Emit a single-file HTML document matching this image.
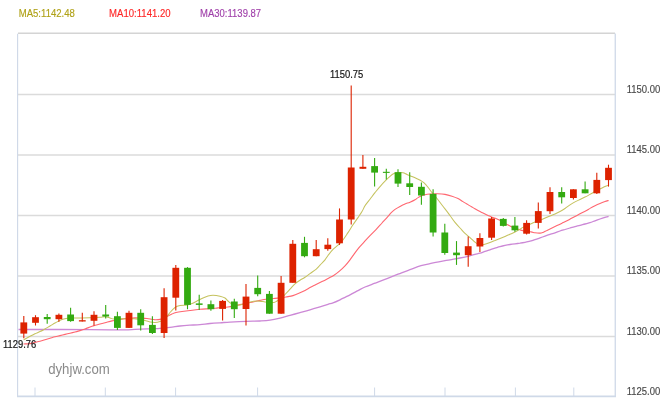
<!DOCTYPE html>
<html lang="zh-CN">
<head>
<meta charset="utf-8">
<title>dyhjw.com</title>
<style>
html,body{margin:0;padding:0;background:#fff;}
body{width:670px;height:400px;overflow:hidden;}
svg{display:block;}
svg text{font-family:"Liberation Sans","Noto Sans CJK SC",sans-serif;}
</style>
</head>
<body>
<svg width="670" height="400" viewBox="0 0 670 400">
<rect x="0" y="0" width="670" height="400" fill="#ffffff"/>

<g stroke="#dbdbdb" stroke-width="1.6" fill="none">
<path d="M18 33.3 L615 33.3" stroke="#d4d4d4"/>
<path d="M18 94.5 L615 94.5"/>
<path d="M18 155 L615 155"/>
<path d="M18 215.5 L615 215.5"/>
<path d="M18 276 L615 276"/>
<path d="M18 336.5 L615 336.5"/>
</g>
<g stroke="#cfd9e8" fill="none">
<path d="M17.6 33.8 L17.6 396.5" stroke-width="1.15"/>
<path d="M615.25 33.5 L615.25 396.5" stroke-width="1.3"/>
<path d="M17 396.4 L616 396.4" stroke-width="1.8"/>
<path d="M35 387.5 L35 396.5" stroke-width="1"/>
<path d="M105.3 387.5 L105.3 396.5" stroke-width="1"/>
<path d="M175.6 387.5 L175.6 396.5" stroke-width="1"/>
<path d="M257.6 387.5 L257.6 396.5" stroke-width="1"/>
<path d="M374.6 387.5 L374.6 396.5" stroke-width="1"/>
<path d="M445 387.5 L445 396.5" stroke-width="1"/>
<path d="M515.4 387.5 L515.4 396.5" stroke-width="1"/>
<path d="M573.8 387.5 L573.8 396.5" stroke-width="1"/>
</g>
<text x="48.2" y="373.8" font-size="14.5" fill="#8a8a8a" textLength="61.6" lengthAdjust="spacingAndGlyphs">dyhjw.com</text>
<path d="M18.5 329.5 C25.4 329.5 48.1 329.5 60.0 329.5 C71.9 329.5 81.7 329.5 90.0 329.6 C98.3 329.7 104.2 329.8 110.0 329.9 C115.8 329.9 120.8 330.0 125.0 329.9 C129.2 329.8 131.3 329.6 135.0 329.4 C138.7 329.2 143.7 329.0 147.0 328.9 C150.3 328.8 152.8 328.8 155.0 328.7 C157.2 328.6 157.5 328.6 160.0 328.4 C162.5 328.2 166.7 327.8 170.0 327.4 C173.3 327.0 176.7 326.4 180.0 326.0 C183.3 325.6 186.7 325.4 190.0 325.2 C193.3 325.0 196.7 324.9 200.0 324.6 C203.3 324.3 206.7 323.8 210.0 323.5 C213.3 323.2 216.7 323.0 220.0 322.8 C223.3 322.6 225.7 322.3 230.0 322.1 C234.3 321.9 241.0 321.6 246.0 321.4 C251.0 321.2 256.0 321.2 260.0 321.0 C264.0 320.8 266.7 320.7 270.0 320.2 C273.3 319.7 276.7 318.9 280.0 318.1 C283.3 317.3 286.7 316.3 290.0 315.4 C293.3 314.5 296.7 313.5 300.0 312.6 C303.3 311.7 306.7 310.8 310.0 309.8 C313.3 308.8 317.0 307.7 320.0 306.8 C323.0 305.9 325.8 305.0 328.0 304.3 C330.2 303.6 331.0 303.6 333.0 302.8 C335.0 302.1 337.2 301.1 340.0 299.8 C342.8 298.5 347.0 296.3 350.0 294.8 C353.0 293.3 355.5 291.9 358.0 290.6 C360.5 289.3 362.2 288.2 365.0 287.0 C367.8 285.8 371.3 284.6 375.0 283.2 C378.7 281.8 383.2 280.1 387.0 278.6 C390.8 277.1 394.2 275.7 398.0 274.2 C401.8 272.7 406.2 271.1 410.0 269.7 C413.8 268.3 417.3 266.8 421.0 265.7 C424.7 264.6 428.8 263.9 432.0 263.2 C435.2 262.5 437.0 262.2 440.0 261.6 C443.0 261.0 446.7 260.4 450.0 259.8 C453.3 259.2 457.0 258.6 460.0 258.0 C463.0 257.4 465.5 256.9 468.0 256.3 C470.5 255.7 473.0 254.9 475.0 254.4 C477.0 253.9 478.3 253.7 480.0 253.2 C481.7 252.7 483.3 252.0 485.0 251.4 C486.7 250.8 488.3 250.4 490.0 249.8 C491.7 249.2 493.3 248.6 495.0 248.1 C496.7 247.6 498.3 247.0 500.0 246.6 C501.7 246.2 503.3 245.8 505.0 245.4 C506.7 245.1 508.3 244.8 510.0 244.5 C511.7 244.2 513.3 244.0 515.0 243.8 C516.7 243.6 518.3 243.4 520.0 243.2 C521.7 242.9 523.3 242.6 525.0 242.3 C526.7 242.0 528.3 241.6 530.0 241.2 C531.7 240.8 533.3 240.1 535.0 239.6 C536.7 239.1 538.3 238.5 540.0 237.9 C541.7 237.3 543.3 236.7 545.0 236.1 C546.7 235.5 548.3 234.9 550.0 234.3 C551.7 233.8 553.3 233.4 555.0 232.8 C556.7 232.2 558.3 231.6 560.0 231.0 C561.7 230.4 563.3 230.0 565.0 229.5 C566.7 229.0 568.3 228.5 570.0 228.0 C571.7 227.5 573.3 227.0 575.0 226.6 C576.7 226.2 578.3 225.7 580.0 225.3 C581.7 224.9 583.3 224.4 585.0 224.0 C586.7 223.6 588.3 223.1 590.0 222.6 C591.7 222.1 593.3 221.4 595.0 220.8 C596.7 220.2 598.3 219.6 600.0 219.0 C601.7 218.4 603.6 217.8 605.0 217.4 C606.4 217.0 608.0 216.6 608.6 216.4" fill="none" stroke="#cc88d6" stroke-width="1.3" stroke-linejoin="round"/>
<path d="M23.6 344.0 C24.7 343.9 28.1 343.9 30.0 343.6 C31.9 343.3 33.3 342.8 35.0 342.4 C36.7 342.0 38.3 341.6 40.0 341.2 C41.7 340.8 43.3 340.3 45.0 339.8 C46.7 339.3 48.3 338.8 50.0 338.3 C51.7 337.8 53.3 337.2 55.0 336.8 C56.7 336.4 58.3 336.0 60.0 335.6 C61.7 335.2 63.3 334.8 65.0 334.4 C66.7 334.0 68.3 333.6 70.0 333.2 C71.7 332.8 73.3 332.4 75.0 332.0 C76.7 331.6 78.3 331.1 80.0 330.6 C81.7 330.1 83.3 329.6 85.0 329.0 C86.7 328.4 88.5 327.6 90.0 327.0 C91.5 326.4 92.3 326.1 94.0 325.6 C95.7 325.1 98.2 324.5 100.0 324.0 C101.8 323.5 103.0 323.2 105.0 322.7 C107.0 322.2 109.8 321.4 112.0 320.9 C114.2 320.4 116.2 320.1 118.0 319.8 C119.8 319.5 121.0 319.2 123.0 318.9 C125.0 318.6 128.0 318.4 130.0 318.2 C132.0 318.0 133.2 317.9 135.0 317.9 C136.8 317.9 139.0 318.0 141.0 318.1 C143.0 318.2 145.2 318.3 147.0 318.5 C148.8 318.7 150.5 319.0 152.0 319.2 C153.5 319.4 154.7 319.8 156.0 319.8 C157.3 319.8 158.7 319.7 160.0 319.4 C161.3 319.1 162.8 318.5 164.0 318.0 C165.2 317.5 165.7 317.2 167.0 316.5 C168.3 315.8 170.5 314.7 172.0 314.0 C173.5 313.3 174.3 312.9 176.0 312.5 C177.7 312.1 179.7 311.8 182.0 311.5 C184.3 311.2 187.0 310.9 190.0 310.5 C193.0 310.1 196.7 309.6 200.0 309.3 C203.3 309.0 207.0 308.9 210.0 308.7 C213.0 308.5 215.0 308.2 218.0 307.9 C221.0 307.6 225.3 307.3 228.0 307.0 C230.7 306.7 232.0 306.4 234.0 306.0 C236.0 305.6 238.0 305.0 240.0 304.6 C242.0 304.2 244.0 303.8 246.0 303.4 C248.0 303.0 249.7 302.7 252.0 302.2 C254.3 301.7 257.7 300.9 260.0 300.4 C262.3 299.9 263.5 299.5 266.0 299.2 C268.5 298.9 272.5 298.6 275.0 298.4 C277.5 298.2 279.2 298.0 281.0 297.8 C282.8 297.6 284.0 297.4 286.0 297.0 C288.0 296.6 290.7 296.3 293.0 295.6 C295.3 294.9 298.0 293.7 300.0 292.8 C302.0 291.9 303.3 291.3 305.0 290.4 C306.7 289.5 308.2 288.6 310.0 287.6 C311.8 286.6 314.0 285.6 316.0 284.6 C318.0 283.6 320.0 282.6 322.0 281.6 C324.0 280.6 326.0 279.5 328.0 278.4 C330.0 277.3 332.0 276.5 334.0 275.2 C336.0 273.9 338.2 272.2 340.0 270.6 C341.8 269.0 343.3 267.6 345.0 265.8 C346.7 264.0 348.7 261.5 350.0 259.8 C351.3 258.1 351.7 257.4 353.0 255.6 C354.3 253.8 356.2 251.0 358.0 248.8 C359.8 246.6 362.0 244.4 364.0 242.2 C366.0 240.0 368.0 237.7 370.0 235.6 C372.0 233.5 374.0 231.7 376.0 229.6 C378.0 227.5 380.0 225.2 382.0 223.0 C384.0 220.8 386.5 218.1 388.0 216.4 C389.5 214.7 389.8 214.0 391.0 212.8 C392.2 211.6 393.5 210.5 395.0 209.4 C396.5 208.3 398.3 207.3 400.0 206.4 C401.7 205.5 403.3 204.7 405.0 204.0 C406.7 203.3 408.3 202.9 410.0 202.2 C411.7 201.5 413.7 200.6 415.0 199.8 C416.3 199.0 417.0 198.2 418.0 197.6 C419.0 196.9 419.8 196.4 421.0 195.9 C422.2 195.4 423.5 195.0 425.0 194.7 C426.5 194.4 428.0 194.2 430.0 194.0 C432.0 193.8 434.5 193.7 437.0 193.8 C439.5 193.9 442.5 194.0 445.0 194.4 C447.5 194.8 449.8 195.5 452.0 196.2 C454.2 196.9 456.2 197.7 458.0 198.6 C459.8 199.5 461.3 200.6 463.0 201.6 C464.7 202.6 466.3 203.6 468.0 204.6 C469.7 205.6 471.3 206.6 473.0 207.6 C474.7 208.6 476.3 209.7 478.0 210.6 C479.7 211.5 481.3 212.2 483.0 213.0 C484.7 213.8 486.5 214.7 488.0 215.4 C489.5 216.1 490.5 216.6 492.0 217.2 C493.5 217.8 495.5 218.4 497.0 219.0 C498.5 219.6 499.7 220.1 501.0 220.8 C502.3 221.5 503.5 222.6 505.0 223.4 C506.5 224.2 508.7 225.2 510.0 225.9 C511.3 226.6 511.3 226.8 513.0 227.4 C514.7 228.1 518.3 229.2 520.0 229.8 C521.7 230.4 521.2 230.3 523.0 230.7 C524.8 231.0 529.0 231.6 531.0 231.9 C533.0 232.2 533.5 232.6 535.0 232.8 C536.5 233.0 538.7 233.2 540.0 233.1 C541.3 233.0 541.8 232.8 543.0 232.4 C544.2 232.0 545.5 231.1 547.0 230.4 C548.5 229.7 550.3 228.8 552.0 228.0 C553.7 227.2 555.3 226.4 557.0 225.6 C558.7 224.8 560.3 224.0 562.0 223.2 C563.7 222.4 565.3 221.7 567.0 220.8 C568.7 219.9 570.3 218.9 572.0 218.0 C573.7 217.1 575.3 216.3 577.0 215.4 C578.7 214.5 580.3 213.7 582.0 212.8 C583.7 212.0 585.7 211.0 587.0 210.3 C588.3 209.6 588.7 209.2 590.0 208.4 C591.3 207.6 593.3 206.5 595.0 205.7 C596.7 204.9 598.3 204.2 600.0 203.5 C601.7 202.8 603.6 202.1 605.0 201.6 C606.4 201.1 608.0 200.6 608.6 200.4" fill="none" stroke="#ff6670" stroke-width="1.1" stroke-linejoin="round"/>
<path d="M23.6 339.8 C24.7 339.2 28.1 337.2 30.0 336.2 C31.9 335.2 33.3 334.6 35.0 333.8 C36.7 333.0 38.3 332.4 40.0 331.6 C41.7 330.8 43.3 329.9 45.0 329.0 C46.7 328.1 48.3 327.0 50.0 326.0 C51.7 325.0 53.6 323.8 55.0 323.0 C56.4 322.2 57.3 321.8 58.5 321.2 C59.7 320.6 60.8 320.1 62.0 319.6 C63.2 319.2 64.7 318.8 66.0 318.5 C67.3 318.2 68.3 318.1 70.0 318.0 C71.7 317.9 74.0 317.9 76.0 317.9 C78.0 317.9 79.7 317.9 82.0 317.9 C84.3 317.9 87.0 317.9 90.0 317.8 C93.0 317.7 97.5 317.5 100.0 317.3 C102.5 317.1 103.3 316.6 105.0 316.7 C106.7 316.8 108.5 317.5 110.0 317.9 C111.5 318.3 111.8 318.9 114.0 319.0 C116.2 319.1 120.3 318.9 123.0 318.8 C125.7 318.7 127.8 318.6 130.0 318.6 C132.2 318.6 134.2 318.8 136.0 318.9 C137.8 319.0 139.5 319.2 141.0 319.5 C142.5 319.8 143.5 320.1 145.0 320.5 C146.5 320.9 148.3 321.7 150.0 322.0 C151.7 322.3 153.3 322.6 155.0 322.5 C156.7 322.4 158.5 322.0 160.0 321.5 C161.5 321.0 162.8 320.3 164.0 319.5 C165.2 318.7 166.0 317.7 167.0 316.5 C168.0 315.3 168.7 314.0 170.0 312.5 C171.3 311.0 173.3 308.7 175.0 307.5 C176.7 306.3 178.0 305.9 180.0 305.5 C182.0 305.1 185.0 305.3 187.0 305.0 C189.0 304.7 190.3 304.2 192.0 303.5 C193.7 302.8 195.2 301.9 197.0 301.0 C198.8 300.1 201.2 298.8 203.0 298.0 C204.8 297.2 206.3 296.5 208.0 296.0 C209.7 295.5 211.0 295.2 213.0 295.2 C215.0 295.2 218.0 295.7 220.0 296.2 C222.0 296.7 223.7 297.2 225.0 298.0 C226.3 298.8 227.0 300.1 228.0 301.0 C229.0 301.9 229.8 302.8 231.0 303.4 C232.2 304.0 233.8 304.5 235.0 304.8 C236.2 305.1 236.8 305.2 238.0 305.2 C239.2 305.2 240.7 304.9 242.0 304.6 C243.3 304.3 244.7 303.9 246.0 303.5 C247.3 303.1 248.2 302.6 250.0 302.2 C251.8 301.8 254.8 301.1 257.0 301.0 C259.2 300.9 261.2 301.4 263.0 301.6 C264.8 301.8 266.2 302.2 268.0 302.3 C269.8 302.4 272.5 302.6 274.0 302.4 C275.5 302.2 275.8 301.6 277.0 301.0 C278.2 300.4 279.7 299.6 281.0 298.5 C282.3 297.4 283.5 296.1 285.0 294.5 C286.5 292.9 288.3 291.0 290.0 289.2 C291.7 287.4 293.3 285.3 295.0 283.8 C296.7 282.3 298.3 281.3 300.0 280.2 C301.7 279.1 303.3 278.3 305.0 277.2 C306.7 276.1 308.2 274.9 310.0 273.6 C311.8 272.3 314.3 270.8 316.0 269.4 C317.7 268.0 318.5 266.8 320.0 265.2 C321.5 263.6 323.7 261.4 325.0 259.8 C326.3 258.2 326.7 257.2 328.0 255.5 C329.3 253.8 331.3 251.1 333.0 249.4 C334.7 247.7 336.3 246.8 338.0 245.2 C339.7 243.6 341.3 241.9 343.0 239.8 C344.7 237.7 346.3 235.1 348.0 232.6 C349.7 230.1 351.3 227.3 353.0 224.8 C354.7 222.3 356.5 219.8 358.0 217.6 C359.5 215.4 360.8 213.6 362.0 211.6 C363.2 209.6 363.7 207.9 365.0 205.8 C366.3 203.7 368.3 201.4 370.0 199.2 C371.7 197.0 373.3 194.7 375.0 192.6 C376.7 190.5 378.3 188.5 380.0 186.6 C381.7 184.7 383.3 182.9 385.0 181.2 C386.7 179.5 388.5 177.7 390.0 176.4 C391.5 175.1 392.7 174.2 394.0 173.6 C395.3 173.0 396.5 172.7 398.0 172.6 C399.5 172.5 401.5 172.5 403.0 172.8 C404.5 173.1 405.5 173.8 407.0 174.4 C408.5 175.0 410.3 175.9 412.0 176.6 C413.7 177.3 415.3 178.0 417.0 178.8 C418.7 179.6 420.5 180.4 422.0 181.4 C423.5 182.4 424.7 183.4 426.0 184.8 C427.3 186.2 428.2 187.7 430.0 190.0 C431.8 192.3 434.5 195.3 437.0 198.5 C439.5 201.7 442.8 206.1 445.0 208.9 C447.2 211.7 448.3 213.2 450.0 215.5 C451.7 217.8 453.3 220.3 455.0 222.4 C456.7 224.5 458.3 226.2 460.0 228.0 C461.7 229.8 463.3 231.8 465.0 233.4 C466.7 235.0 468.3 236.1 470.0 237.6 C471.7 239.1 473.7 241.1 475.0 242.2 C476.3 243.3 477.0 243.8 478.0 244.3 C479.0 244.8 480.0 245.0 481.0 245.0 C482.0 245.0 482.5 244.9 484.0 244.5 C485.5 244.1 488.2 243.1 490.0 242.4 C491.8 241.8 493.3 241.2 495.0 240.6 C496.7 239.9 498.3 239.2 500.0 238.5 C501.7 237.8 503.3 237.1 505.0 236.4 C506.7 235.7 508.3 234.9 510.0 234.2 C511.7 233.5 513.3 232.9 515.0 232.1 C516.7 231.3 518.7 230.0 520.0 229.2 C521.3 228.4 521.2 228.3 523.0 227.4 C524.8 226.5 529.0 224.7 531.0 223.8 C533.0 222.9 533.0 222.8 535.0 222.0 C537.0 221.2 540.5 220.0 543.0 219.0 C545.5 218.0 548.0 216.8 550.0 216.0 C552.0 215.2 553.3 214.8 555.0 214.0 C556.7 213.2 558.3 212.4 560.0 211.5 C561.7 210.6 563.3 209.6 565.0 208.5 C566.7 207.4 568.3 206.0 570.0 204.9 C571.7 203.8 573.3 202.8 575.0 201.9 C576.7 201.0 578.3 200.3 580.0 199.5 C581.7 198.7 583.3 197.8 585.0 197.0 C586.7 196.2 588.3 195.3 590.0 194.4 C591.7 193.5 593.3 192.4 595.0 191.5 C596.7 190.6 598.3 189.8 600.0 189.0 C601.7 188.2 603.6 187.2 605.0 186.6 C606.4 186.0 608.0 185.6 608.6 185.4" fill="none" stroke="#c5c25e" stroke-width="1.05" stroke-linejoin="round"/>
<g>
<path d="M23.8 316.1 L23.8 338.3" stroke="#dd2200" stroke-width="1.1"/><rect x="20.4" y="322.4" width="6.8" height="11.2" fill="#dd2200"/>
<path d="M35.5 315.2 L35.5 325.5" stroke="#dd2200" stroke-width="1.1"/><rect x="32.1" y="317.2" width="6.8" height="5.6" fill="#dd2200"/>
<path d="M47.2 314.1 L47.2 323.8" stroke="#33aa11" stroke-width="1.1"/><rect x="43.8" y="317.0" width="6.8" height="2.2" fill="#33aa11"/>
<path d="M58.9 313.4 L58.9 321.8" stroke="#dd2200" stroke-width="1.1"/><rect x="55.5" y="314.8" width="6.8" height="4.4" fill="#dd2200"/>
<path d="M70.6 307.7 L70.6 321.8" stroke="#33aa11" stroke-width="1.1"/><rect x="67.2" y="314.5" width="6.8" height="6.6" fill="#33aa11"/>
<path d="M82.3 312.8 L82.3 321.5" stroke="#dd2200" stroke-width="1.1"/><rect x="78.9" y="320.2" width="6.8" height="1.3" fill="#dd2200"/>
<path d="M94.0 311.2 L94.0 325.5" stroke="#dd2200" stroke-width="1.1"/><rect x="90.6" y="314.8" width="6.8" height="6.0" fill="#dd2200"/>
<path d="M105.7 305.1 L105.7 318.5" stroke="#33aa11" stroke-width="1.1"/><rect x="102.3" y="314.5" width="6.8" height="2.0" fill="#33aa11"/>
<path d="M117.4 311.8 L117.4 329.9" stroke="#33aa11" stroke-width="1.1"/><rect x="114.0" y="316.2" width="6.8" height="11.7" fill="#33aa11"/>
<path d="M129.0 310.8 L129.0 327.9" stroke="#dd2200" stroke-width="1.1"/><rect x="125.6" y="312.8" width="6.8" height="15.1" fill="#dd2200"/>
<path d="M140.7 309.2 L140.7 330.6" stroke="#33aa11" stroke-width="1.1"/><rect x="137.3" y="312.8" width="6.8" height="12.5" fill="#33aa11"/>
<path d="M152.4 316.2 L152.4 334.1" stroke="#33aa11" stroke-width="1.1"/><rect x="149.0" y="324.9" width="6.8" height="8.1" fill="#33aa11"/>
<path d="M164.1 288.3 L164.1 338.1" stroke="#dd2200" stroke-width="1.1"/><rect x="160.7" y="297.2" width="6.8" height="35.8" fill="#dd2200"/>
<path d="M175.8 265.1 L175.8 310.6" stroke="#dd2200" stroke-width="1.1"/><rect x="172.4" y="267.8" width="6.8" height="29.9" fill="#dd2200"/>
<path d="M187.5 267.1 L187.5 309.2" stroke="#33aa11" stroke-width="1.1"/><rect x="184.1" y="267.8" width="6.8" height="37.1" fill="#33aa11"/>
<path d="M199.2 294.7 L199.2 309.9" stroke="#33aa11" stroke-width="1.1"/><rect x="195.8" y="303.4" width="6.8" height="1.5" fill="#33aa11"/>
<path d="M210.9 300.5 L210.9 310.8" stroke="#33aa11" stroke-width="1.1"/><rect x="207.5" y="304.2" width="6.8" height="5.0" fill="#33aa11"/>
<path d="M222.6 300.0 L222.6 320.6" stroke="#dd2200" stroke-width="1.1"/><rect x="219.2" y="300.9" width="6.8" height="8.0" fill="#dd2200"/>
<path d="M234.3 298.8 L234.3 317.9" stroke="#33aa11" stroke-width="1.1"/><rect x="230.9" y="301.5" width="6.8" height="7.7" fill="#33aa11"/>
<path d="M246.0 284.1 L246.0 325.6" stroke="#dd2200" stroke-width="1.1"/><rect x="242.6" y="296.6" width="6.8" height="12.4" fill="#dd2200"/>
<path d="M257.7 275.6 L257.7 296.2" stroke="#33aa11" stroke-width="1.1"/><rect x="254.3" y="287.9" width="6.8" height="6.3" fill="#33aa11"/>
<path d="M269.4 291.1 L269.4 313.7" stroke="#33aa11" stroke-width="1.1"/><rect x="266.0" y="293.9" width="6.8" height="19.8" fill="#33aa11"/>
<path d="M281.1 276.0 L281.1 313.7" stroke="#dd2200" stroke-width="1.1"/><rect x="277.7" y="282.8" width="6.8" height="30.9" fill="#dd2200"/>
<path d="M292.8 240.1 L292.8 282.8" stroke="#dd2200" stroke-width="1.1"/><rect x="289.4" y="243.8" width="6.8" height="39.0" fill="#dd2200"/>
<path d="M304.5 236.8 L304.5 257.3" stroke="#33aa11" stroke-width="1.1"/><rect x="301.1" y="242.9" width="6.8" height="13.3" fill="#33aa11"/>
<path d="M316.2 240.1 L316.2 256.2" stroke="#dd2200" stroke-width="1.1"/><rect x="312.8" y="249.2" width="6.8" height="7.0" fill="#dd2200"/>
<path d="M327.8 238.3 L327.8 250.7" stroke="#dd2200" stroke-width="1.1"/><rect x="324.4" y="244.7" width="6.8" height="4.4" fill="#dd2200"/>
<path d="M339.5 208.4 L339.5 244.9" stroke="#dd2200" stroke-width="1.1"/><rect x="336.1" y="219.5" width="6.8" height="23.8" fill="#dd2200"/>
<path d="M351.2 85.6 L351.2 224.5" stroke="#dd2200" stroke-width="1.1"/><rect x="347.8" y="167.5" width="6.8" height="52.0" fill="#dd2200"/>
<path d="M362.9 155.1 L362.9 168.8" stroke="#dd2200" stroke-width="1.1"/><rect x="359.5" y="166.8" width="6.8" height="2.0" fill="#dd2200"/>
<path d="M374.6 158.1 L374.6 186.6" stroke="#33aa11" stroke-width="1.1"/><rect x="371.2" y="166.1" width="6.8" height="6.5" fill="#33aa11"/>
<path d="M386.3 168.8 L386.3 179.6" stroke="#33aa11" stroke-width="1.1"/><rect x="382.9" y="171.8" width="6.8" height="1.1" fill="#33aa11"/>
<path d="M398.0 169.2 L398.0 187.0" stroke="#33aa11" stroke-width="1.1"/><rect x="394.6" y="172.2" width="6.8" height="11.4" fill="#33aa11"/>
<path d="M409.7 172.2 L409.7 195.0" stroke="#33aa11" stroke-width="1.1"/><rect x="406.3" y="183.3" width="6.8" height="3.7" fill="#33aa11"/>
<path d="M421.4 182.4 L421.4 204.7" stroke="#33aa11" stroke-width="1.1"/><rect x="418.0" y="186.8" width="6.8" height="8.7" fill="#33aa11"/>
<path d="M433.1 189.2 L433.1 236.5" stroke="#33aa11" stroke-width="1.1"/><rect x="429.7" y="193.9" width="6.8" height="38.6" fill="#33aa11"/>
<path d="M444.8 223.7 L444.8 254.7" stroke="#33aa11" stroke-width="1.1"/><rect x="441.4" y="232.5" width="6.8" height="20.5" fill="#33aa11"/>
<path d="M456.5 241.1 L456.5 264.9" stroke="#33aa11" stroke-width="1.1"/><rect x="453.1" y="252.6" width="6.8" height="2.6" fill="#33aa11"/>
<path d="M468.2 236.4 L468.2 266.7" stroke="#dd2200" stroke-width="1.1"/><rect x="464.8" y="246.2" width="6.8" height="9.0" fill="#dd2200"/>
<path d="M479.9 233.3 L479.9 251.9" stroke="#dd2200" stroke-width="1.1"/><rect x="476.5" y="238.0" width="6.8" height="8.5" fill="#dd2200"/>
<path d="M491.6 216.9 L491.6 239.9" stroke="#dd2200" stroke-width="1.1"/><rect x="488.2" y="218.5" width="6.8" height="19.2" fill="#dd2200"/>
<path d="M503.3 218.0 L503.3 226.6" stroke="#33aa11" stroke-width="1.1"/><rect x="499.9" y="218.9" width="6.8" height="7.0" fill="#33aa11"/>
<path d="M514.9 216.9 L514.9 231.7" stroke="#33aa11" stroke-width="1.1"/><rect x="511.5" y="225.6" width="6.8" height="4.7" fill="#33aa11"/>
<path d="M526.6 220.2 L526.6 234.6" stroke="#dd2200" stroke-width="1.1"/><rect x="523.2" y="222.9" width="6.8" height="10.8" fill="#dd2200"/>
<path d="M538.3 202.4 L538.3 228.6" stroke="#dd2200" stroke-width="1.1"/><rect x="534.9" y="211.1" width="6.8" height="11.8" fill="#dd2200"/>
<path d="M550.0 187.3 L550.0 213.9" stroke="#dd2200" stroke-width="1.1"/><rect x="546.6" y="192.0" width="6.8" height="19.2" fill="#dd2200"/>
<path d="M561.7 187.3 L561.7 203.4" stroke="#33aa11" stroke-width="1.1"/><rect x="558.3" y="192.0" width="6.8" height="5.3" fill="#33aa11"/>
<path d="M573.4 189.3 L573.4 199.4" stroke="#dd2200" stroke-width="1.1"/><rect x="570.0" y="189.3" width="6.8" height="8.7" fill="#dd2200"/>
<path d="M585.1 181.5 L585.1 193.3" stroke="#33aa11" stroke-width="1.1"/><rect x="581.7" y="189.3" width="6.8" height="4.0" fill="#33aa11"/>
<path d="M596.8 172.7 L596.8 194.0" stroke="#dd2200" stroke-width="1.1"/><rect x="593.4" y="179.9" width="6.8" height="13.4" fill="#dd2200"/>
<path d="M608.5 164.7 L608.5 186.6" stroke="#dd2200" stroke-width="1.1"/><rect x="605.1" y="167.8" width="6.8" height="12.3" fill="#dd2200"/>
</g>
<text x="18.7" y="16.5" font-size="11.5" fill="#b0a218" stroke="#b0a218" stroke-width="0.15" textLength="56.2" lengthAdjust="spacingAndGlyphs">MA5:1142.48</text>
<text x="109.1" y="16.5" font-size="11.5" fill="#ff2626" stroke="#ff2626" stroke-width="0.15" textLength="61.5" lengthAdjust="spacingAndGlyphs">MA10:1141.20</text>
<text x="200.1" y="16.5" font-size="11.5" fill="#a040aa" stroke="#a040aa" stroke-width="0.15" textLength="61" lengthAdjust="spacingAndGlyphs">MA30:1139.87</text>
<text x="330" y="78.3" font-size="11" fill="#151515" stroke="#151515" stroke-width="0.2" textLength="33.3" lengthAdjust="spacingAndGlyphs">1150.75</text>
<text x="3" y="348.4" font-size="11" fill="#151515" stroke="#151515" stroke-width="0.2" textLength="33.2" lengthAdjust="spacingAndGlyphs">1129.76</text>
<text x="626.7" y="92.7" font-size="11" fill="#484848" stroke="#484848" stroke-width="0.15" textLength="33.6" lengthAdjust="spacingAndGlyphs">1150.00</text>
<text x="626.7" y="153.2" font-size="11" fill="#484848" stroke="#484848" stroke-width="0.15" textLength="33.6" lengthAdjust="spacingAndGlyphs">1145.00</text>
<text x="626.7" y="213.7" font-size="11" fill="#484848" stroke="#484848" stroke-width="0.15" textLength="33.6" lengthAdjust="spacingAndGlyphs">1140.00</text>
<text x="626.7" y="274.2" font-size="11" fill="#484848" stroke="#484848" stroke-width="0.15" textLength="33.6" lengthAdjust="spacingAndGlyphs">1135.00</text>
<text x="626.7" y="334.7" font-size="11" fill="#484848" stroke="#484848" stroke-width="0.15" textLength="33.6" lengthAdjust="spacingAndGlyphs">1130.00</text>
<text x="626.7" y="395.2" font-size="11" fill="#484848" stroke="#484848" stroke-width="0.15" textLength="33.6" lengthAdjust="spacingAndGlyphs">1125.00</text>
</svg>
</body>
</html>
